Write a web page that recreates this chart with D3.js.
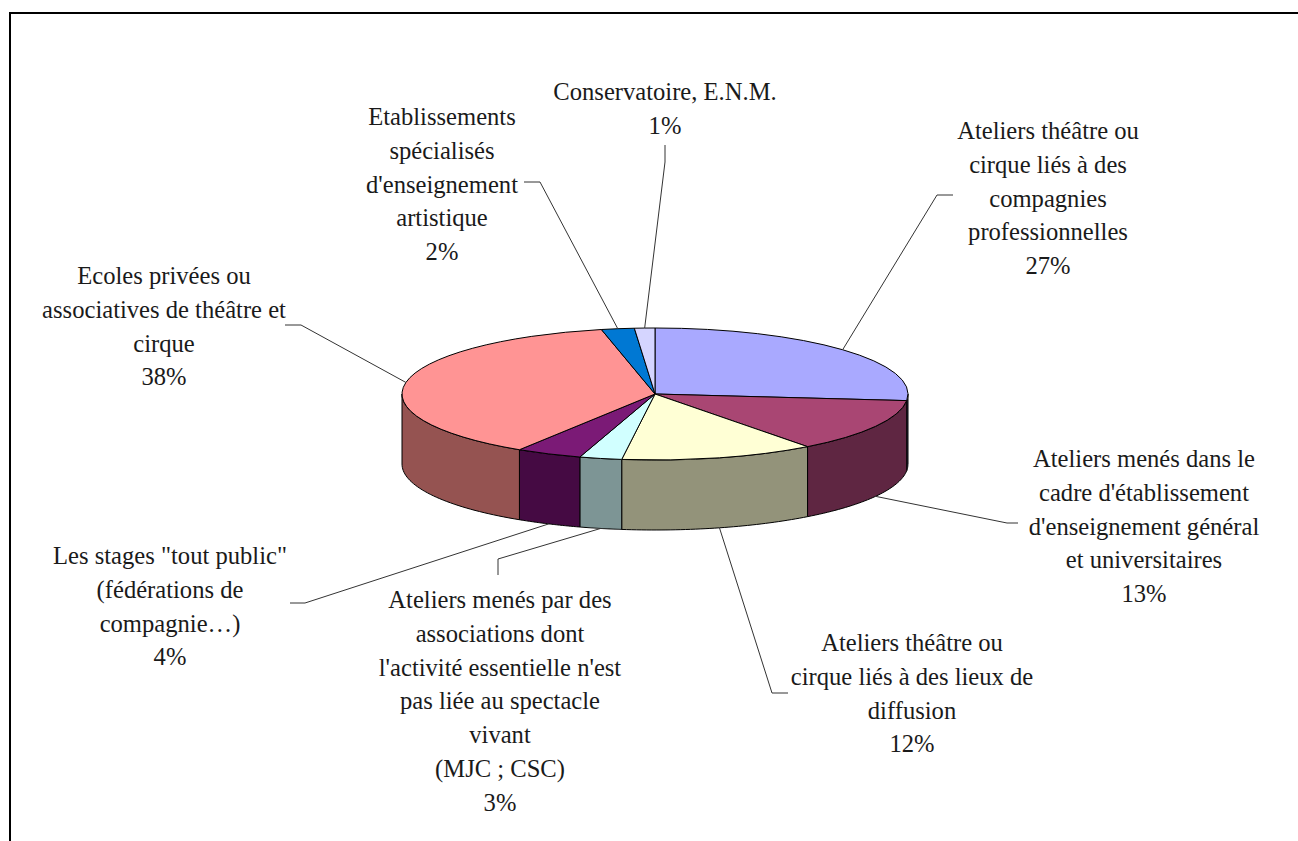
<!DOCTYPE html>
<html><head><meta charset="utf-8">
<script src="https://cdn.jsdelivr.net/npm/d3@7"></script>
<style>html,body{margin:0;padding:0;background:#fff;overflow:hidden}svg{display:block}</style>
</head><body><svg id="c" width="1298" height="841"></svg>
<script>
const labels = [
 ["Ateliers théâtre ou","cirque liés à des","compagnies","professionnelles"],
 ["Ateliers menés dans le","cadre d'établissement","d'enseignement général","et universitaires"],
 ["Ateliers théâtre ou","cirque liés à des lieux de","diffusion"],
 ["Ateliers menés par des","associations dont","l'activité essentielle n'est","pas liée au spectacle","vivant","(MJC ; CSC)"],
 ["Les stages \"tout public\"","(fédérations de","compagnie…)"],
 ["Ecoles privées ou","associatives de théâtre et","cirque"],
 ["Etablissements","spécialisés","d'enseignement","artistique"],
 ["Conservatoire, E.N.M."]
];
const values = [26.6,13.1,12.4,2.7,4.2,37.6,2.1,1.3];
const topColors = ["#A9A9FF","#A94673","#FFFFD5","#D1FFFF","#7B1A76","#FF9494","#0078D3","#D5D5FF"];
const sideColors = ["#3F3F60","#5F2642","#93937A","#7D9595","#450A43","#955351","#00437A","#7A7A95"];
const labelX = [1048,1144,912,500,170,164,442,665];
const labelTop = [131,459,643,600,556,276,117,92];
const leaderStub = [[953,195],[1018,523],[788,693],[498,575],[290,603],[285,325],[524,182],[665,145]];
const leaderKnee = [[937,195],[1007,523],[772,693],[498,559],[305,603],[301,325],[540,182],[665,162]];

const W=1298,H=841,cx=655,cy=394,rx=253,ry=66,depth=70,lh=33.75,fs=24.6;
const svg=d3.select("#c");
svg.append("rect").attr("x",0).attr("y",0).attr("width",W).attr("height",H).attr("fill","#fff");
svg.append("path").attr("d",`M10,${H}V13H${W}`).attr("fill","none").attr("stroke","#000").attr("stroke-width",2);

const arcs=d3.pie().sort(null)(values);
const px=t=>cx+rx*Math.sin(t), py=t=>cy-ry*Math.cos(t);
const lineGen=d3.line();
const HP=Math.PI/2, TP=3*Math.PI/2;

const walls=svg.append("g");
arcs.forEach((a,i)=>{
  const s=Math.max(a.startAngle,HP), e=Math.min(a.endAngle,TP);
  if(e<=s) return;
  const ts=d3.range(0,41).map(k=>s+(e-s)*k/40);
  const pts=ts.map(t=>[px(t),py(t)]).concat(ts.slice().reverse().map(t=>[px(t),py(t)+depth]));
  walls.append("path").attr("d",lineGen(pts)+"Z").attr("fill",sideColors[i]).attr("stroke","#000").attr("stroke-width",1).attr("stroke-linejoin","round");
});

const arcGen=d3.arc().innerRadius(0).outerRadius(rx);
const topFace=svg.append("g").attr("transform",`translate(${cx},${cy}) scale(1,${ry/rx})`);
topFace.selectAll("path").data(arcs).join("path").attr("d",arcGen)
  .attr("fill",(d,i)=>topColors[i]).attr("stroke","#000").attr("stroke-width",1)
  .attr("vector-effect","non-scaling-stroke").attr("stroke-linejoin","round");

const leaders=svg.append("g");
arcs.forEach((a,i)=>{
  const m=(a.startAngle+a.endAngle)/2;
  const front=Math.cos(m)<0;
  const end=[px(m),py(m)+(front?depth:0)];
  leaders.append("path").attr("d",lineGen([leaderStub[i],leaderKnee[i],end]))
    .attr("fill","none").attr("stroke","#333").attr("stroke-width",1);
});

const textG=svg.append("g").attr("font-family","'Liberation Serif',serif").attr("font-size",fs).attr("fill","#1a1a1a").attr("text-anchor","middle");
labels.forEach((ls,i)=>{
  const all=ls.concat([Math.round(values[i])+"%"]);
  all.forEach((s,j)=>{
    textG.append("text").attr("x",labelX[i]).attr("y",labelTop[i]+j*lh+8).text(s);
  });
});
</script></body></html>
